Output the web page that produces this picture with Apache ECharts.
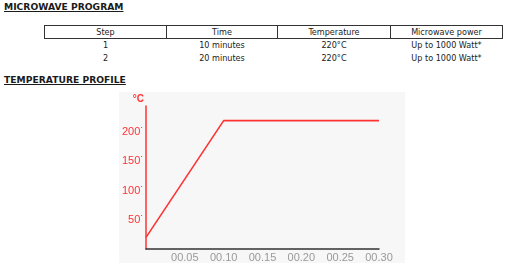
<!DOCTYPE html>
<html>
<head>
<meta charset="utf-8">
<script src="https://cdn.jsdelivr.net/npm/echarts@6/dist/echarts.min.js"></script>
<style>
  html, body { margin: 0; padding: 0; background: #fff; width: 508px; height: 265px; overflow: hidden; }
  .h { position: absolute; left: 4px; font-family: "DejaVu Sans", Verdana, sans-serif; font-weight: bold; font-size: 9.2px; color: #1a1a1a; text-decoration: underline; letter-spacing: 0; }
  table { position: absolute; left: 44px; top: 25px; width: 458px; border-collapse: collapse; table-layout: fixed;
          font-family: "DejaVu Sans Condensed", "DejaVu Sans", Tahoma, sans-serif; font-size: 9px; color: #222; }
  th { font-weight: normal; border: 1px solid #333; height: 12px; padding: 0; line-height: 11px; }
  td { text-align: center; height: 13px; padding: 0; line-height: 13px; }
  #chart { position: absolute; left: 119px; top: 92px; width: 286px; height: 171px; }
</style>
</head>
<body>
<div class="h" id="h1" style="top:1px">MICROWAVE PROGRAM</div>
<table id="tbl"></table>
<div class="h" id="h2" style="top:74px">TEMPERATURE PROFILE</div>
<div id="chart"></div>
<script>
// Table data
const tableHeaders = ["Step", "Time", "Temperature", "Microwave power"];
const steps = ["1", "2"];
const times = ["10 minutes", "20 minutes"];
const temps = ["220\u00B0C", "220\u00B0C"];
const powers = ["Up to 1000 Watt*", "Up to 1000 Watt*"];

// Chart data
const timeMinutes = [0, 10, 30];
const temperatures = [20, 220, 220];
const xTickValues = [5, 10, 15, 20, 25, 30];
const yTickValues = [50, 100, 150, 200];

// Build table
const tbl = document.getElementById('tbl');
const colW = [122, 111, 113, 112];
let html = '<colgroup>' + colW.map(w => '<col style="width:' + w + 'px">').join('') + '</colgroup>';
html += '<tr>' + tableHeaders.map(h => '<th>' + h + '</th>').join('') + '</tr>';
for (let i = 0; i < steps.length; i++) {
  html += '<tr><td>' + steps[i] + '</td><td>' + times[i] + '</td><td>' + temps[i] + '</td><td>' + powers[i] + '</td></tr>';
}
tbl.innerHTML = html;

const chart = echarts.init(document.getElementById('chart'), null, { renderer: 'canvas' });
const pad = n => (n < 10 ? '0' + n : '' + n);
chart.setOption({
  backgroundColor: '#f7f7f7',
  animation: false,
  grid: { left: 24, right: 26, top: 14, bottom: 13 },
  xAxis: {
    type: 'value', min: 0, max: 30, interval: 5,
    axisLine: { show: true, lineStyle: { color: '#333', width: 1.5 } },
    axisTick: { show: false },
    splitLine: { show: false },
    axisLabel: {
      color: '#999', fontFamily: 'Liberation Sans, Arial, sans-serif', fontSize: 11, margin: 3,
      formatter: v => xTickValues.indexOf(v) >= 0 ? '00.' + pad(v) : ''
    }
  },
  yAxis: {
    type: 'value', min: 0, max: 245, interval: 50,
    name: '\u00B0C', nameLocation: 'end', nameGap: 2,
    nameTextStyle: { color: '#ff3333', fontFamily: 'Liberation Sans, Arial, sans-serif', fontSize: 10, fontWeight: 'bold', align: 'right', padding: [0, 2, 0, 0] },
    axisLine: { show: true, lineStyle: { color: '#ff3333', width: 1.5 } },
    axisTick: { show: false },
    splitLine: { show: false },
    axisLabel: {
      color: '#ff3333', fontFamily: 'Liberation Sans, Arial, sans-serif', fontSize: 11, margin: 2,
      showMaxLabel: false,
      formatter: v => yTickValues.indexOf(v) >= 0 ? v + '\u02D9' : ''
    }
  },
  series: [{
    type: 'line',
    data: timeMinutes.map((t, i) => [t, temperatures[i]]),
    showSymbol: false,
    lineStyle: { color: '#ff3333', width: 1.6 }
  }]
});
</script>
</body>
</html>
